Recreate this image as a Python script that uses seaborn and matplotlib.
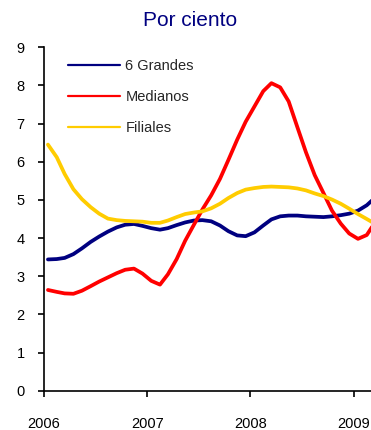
import matplotlib

matplotlib.use("Agg")
import matplotlib.dates as mdates
import matplotlib.pyplot as plt
import pandas as pd
import seaborn as sns

# monthly readings, Jan 2006 - Mar 2009 (mid-month)
months = pd.date_range("2006-01-01", periods=39, freq="MS") + pd.Timedelta(days=14)

grandes = [
    3.44, 3.45, 3.48, 3.58, 3.73, 3.90, 4.04, 4.17, 4.28, 4.35, 4.37, 4.32,
    4.26, 4.22, 4.26, 4.34, 4.41, 4.46, 4.47, 4.44, 4.33, 4.18, 4.07, 4.05,
    4.15, 4.33, 4.49, 4.57, 4.59, 4.59, 4.57, 4.56, 4.55, 4.57, 4.60, 4.64,
    4.72, 4.86, 5.05,
]
medianos = [
    2.64, 2.59, 2.55, 2.54, 2.62, 2.74, 2.86, 2.97, 3.08, 3.17, 3.20, 3.07,
    2.88, 2.78, 3.05, 3.45, 3.93, 4.35, 4.75, 5.12, 5.55, 6.05, 6.58, 7.05,
    7.45, 7.85, 8.06, 7.95, 7.58, 6.90, 6.25, 5.65, 5.18, 4.72, 4.38, 4.12,
    3.98, 4.08, 4.40,
]
filiales = [
    6.45, 6.12, 5.68, 5.28, 5.02, 4.81, 4.64, 4.51, 4.47, 4.45, 4.44, 4.43,
    4.40, 4.40, 4.46, 4.55, 4.63, 4.67, 4.70, 4.78, 4.90, 5.05, 5.18, 5.27,
    5.31, 5.34, 5.35, 5.34, 5.33, 5.30, 5.25, 5.17, 5.10, 5.01, 4.90, 4.77,
    4.63, 4.50, 4.38,
]
series_names = ["6 Grandes", "Medianos", "Filiales"]
series_colors = ["#000080", "#FF0000", "#FFCC00"]


def main():
    df = pd.concat(
        [
            pd.DataFrame({"fecha": months, "valor": vals, "serie": name})
            for name, vals in zip(series_names, [grandes, medianos, filiales])
        ]
    )

    sns.set_style("ticks")
    plt.rcParams["font.family"] = ["Liberation Sans", "DejaVu Sans"]

    fig = plt.figure(figsize=(3.71, 4.30), dpi=100)
    ax = fig.add_axes([0.1186, 0.0914, 0.8814, 0.7986])

    sns.lineplot(
        data=df,
        x="fecha",
        y="valor",
        hue="serie",
        hue_order=series_names,
        palette=series_colors,
        linewidth=2.7,
        ax=ax,
    )
    for line in ax.get_lines():
        line.set_solid_joinstyle("round")
        line.set_solid_capstyle("round")

    ax.set_xlim(pd.Timestamp("2006-01-01"), pd.Timestamp("2009-03-02"))
    ax.set_ylim(0, 9)
    ax.set_yticks(range(0, 10))
    ax.xaxis.set_major_locator(mdates.YearLocator())
    ax.xaxis.set_major_formatter(mdates.DateFormatter("%Y"))
    ax.set_xlabel("")
    ax.set_ylabel("")

    for side in ["top", "right"]:
        ax.spines[side].set_visible(False)
    for side in ["left", "bottom"]:
        ax.spines[side].set_linewidth(1.2)
        ax.spines[side].set_color("black")
    ax.tick_params(axis="y", length=4, width=1.2, pad=10, labelsize=10.5, colors="black")
    ax.tick_params(axis="x", length=4, width=1.2, pad=15, labelsize=10.5, colors="black")

    leg = ax.legend(
        loc="upper left",
        bbox_to_anchor=(0.183, 0.862),
        bbox_transform=fig.transFigure,
        frameon=False,
        fontsize=10.5,
        handlelength=3.55,
        handletextpad=0.4,
        labelspacing=1.15,
        borderpad=0,
        borderaxespad=0,
    )
    for line in leg.get_lines():
        line.set_linewidth(1.6)

    fig.text(0.512, 0.952, "Por ciento", ha="center", va="center",
             fontsize=15, color="#000080")

    fig.savefig("out.png", dpi=100)
    plt.close(fig)


if __name__ == "__main__":
    main()
